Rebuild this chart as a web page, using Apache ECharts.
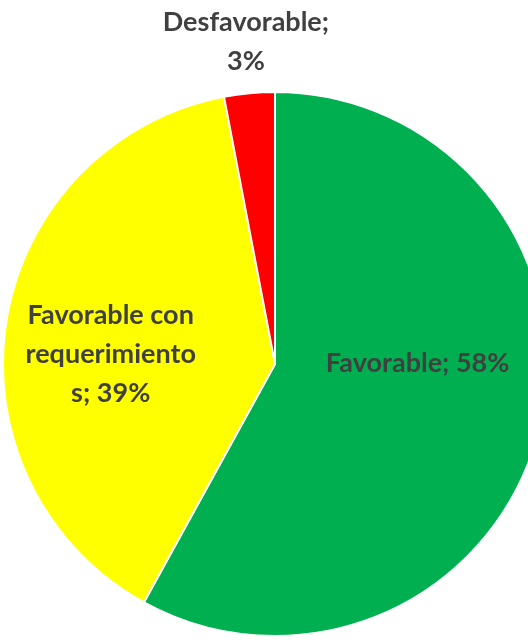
<!DOCTYPE html>
<html>
<head>
<meta charset="utf-8">
<script src="https://cdn.jsdelivr.net/npm/echarts@6/dist/echarts.min.js"></script>
<style>html,body{margin:0;padding:0;background:#fff}#c{width:528px;height:643px}</style>
</head>
<body>
<div id="c"></div>
<script>
var categories = ['Favorable', 'Favorable con requerimientos', 'Desfavorable'];
var values = [58, 39, 3];
var colors = ['#00B050', '#FFFF00', '#FF0000'];
var labelPrefixes = ['Favorable; ', 'Favorable con\nrequerimiento\ns; ', 'Desfavorable;\n'];
var labelShifts = [[8, -35], [-27, 12], [-16, -184]];

var chart = echarts.init(document.getElementById('c'));
chart.setOption({
  animation: false,
  series: [{
    type: 'pie',
    center: [275, 364],
    radius: 272,
    startAngle: 90,
    clockwise: true,
    data: categories.map(function (n, i) {
      return { name: n, value: values[i], itemStyle: { color: colors[i] } };
    }),
    itemStyle: { borderColor: '#ffffff', borderWidth: 2 },
    label: {
      position: 'inside',
      formatter: function (p) { return labelPrefixes[p.dataIndex] + p.value + '%'; },
      color: '#404040',
      fontFamily: 'Lato',
      fontWeight: 'bold',
      fontSize: 27,
      lineHeight: 39,
      align: 'center'
    },
    labelLine: { show: false },
    labelLayout: function (p) {
      var s = labelShifts[p.dataIndex];
      return { dx: s[0], dy: s[1] };
    }
  }]
});
</script>
</body>
</html>
